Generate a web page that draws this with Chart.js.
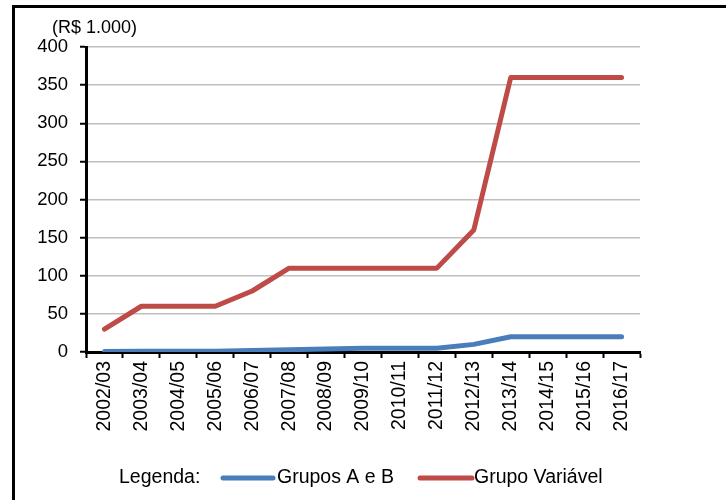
<!DOCTYPE html>
<html>
<head>
<meta charset="utf-8">
<script src="https://cdn.jsdelivr.net/npm/chart.js@4"></script>
<style>
  body { margin: 0; background: #fff; }
  #wrap { position: relative; width: 726px; height: 500px; }
</style>
</head>
<body>
<div id="wrap"><canvas id="myChart" width="726" height="500"></canvas></div>
<script>
// data
const labels = ['2002/03', '2003/04', '2004/05', '2005/06', '2006/07', '2007/08', '2008/09', '2009/10',
  '2010/11', '2011/12', '2012/13', '2013/14', '2014/15', '2015/16', '2016/17'];
const gruposAB = [0.5, 1, 1, 1, 2, 3, 4, 5, 5, 5, 10, 20, 20, 20, 20];
const grupoVariavel = [30, 60, 60, 60, 80, 110, 110, 110, 110, 110, 160, 360, 360, 360, 360];
const yTicks = [0, 50, 100, 150, 200, 250, 300, 350, 400];

const FONT = "'Liberation Sans', Arial, sans-serif";
const BLUE = '#4A7EBB';
const RED = '#BE4B48';

// frame, unit label and the "Legenda:" row
const extras = {
  id: 'extras',
  beforeDraw(chart) {
    const c = chart.ctx;
    c.save();
    c.fillStyle = '#fff';
    c.fillRect(0, 0, chart.width, chart.height);
    c.fillStyle = '#000';
    c.fillRect(12, 5, 3, 495);
    c.fillRect(12, 5, 714, 3);
    c.restore();
  },
  afterDraw(chart) {
    const c = chart.ctx;
    c.save();
    c.font = '18px ' + FONT;
    c.fillStyle = '#000';
    c.textBaseline = 'middle';
    c.fillText('(R$ 1.000)', 52, 28);

    const y = 478;
    c.font = '19.5px ' + FONT;
    c.fillText('Legenda:', 119, y);
    const items = [
      { x: 223, len: 50, tx: 277 },
      { x: 420, len: 52, tx: 474 }
    ];
    chart.data.datasets.forEach((ds, i) => {
      const it = items[i];
      c.strokeStyle = ds.borderColor;
      c.lineWidth = 5;
      c.lineCap = 'round';
      c.beginPath();
      c.moveTo(it.x, y);
      c.lineTo(it.x + it.len, y);
      c.stroke();
      c.fillStyle = '#000';
      c.fillText(ds.label, it.tx, y);
    });
    c.restore();
  }
};

const ctx = document.getElementById('myChart').getContext('2d');
const chart = new Chart(ctx, {
  type: 'line',
  data: {
    labels: labels,
    datasets: [{
      label: 'Grupos A e B',
      data: gruposAB,
      borderColor: BLUE,
      borderWidth: 5,
      pointRadius: 0,
      borderCapStyle: 'round',
      borderJoinStyle: 'round',
      tension: 0
    }, {
      label: 'Grupo Variável',
      data: grupoVariavel,
      borderColor: RED,
      borderWidth: 5,
      pointRadius: 0,
      borderCapStyle: 'round',
      borderJoinStyle: 'round',
      tension: 0
    }]
  },
  options: {
    responsive: false,
    animation: false,
    layout: { padding: { left: 0, top: 47, right: 86, bottom: 0 } },
    plugins: {
      legend: { display: false },
      tooltip: { enabled: false }
    },
    scales: {
      x: {
        offset: true,
        afterFit: s => { s.height = 148; },
        grid: {
          offset: true,
          drawOnChartArea: false,
          tickLength: 6,
          tickColor: '#000',
          tickWidth: 2
        },
        border: { color: '#000', width: 3 },
        ticks: {
          color: '#000',
          font: { family: FONT, size: 19.5 },
          minRotation: 90,
          maxRotation: 90,
          autoSkip: false,
          padding: 3
        }
      },
      y: {
        min: 0,
        max: 400,
        afterFit: s => { s.width = 86; },
        afterBuildTicks: s => { s.ticks = yTicks.map(v => ({ value: v })); },
        grid: {
          color: '#BFBFBF',
          lineWidth: 1.5,
          tickLength: 6,
          tickColor: '#000',
          tickWidth: 2
        },
        border: { color: '#000', width: 3 },
        ticks: {
          color: '#000',
          font: { family: FONT, size: 18.5 },
          padding: 12
        }
      }
    }
  },
  plugins: [extras]
});
</script>
</body>
</html>
